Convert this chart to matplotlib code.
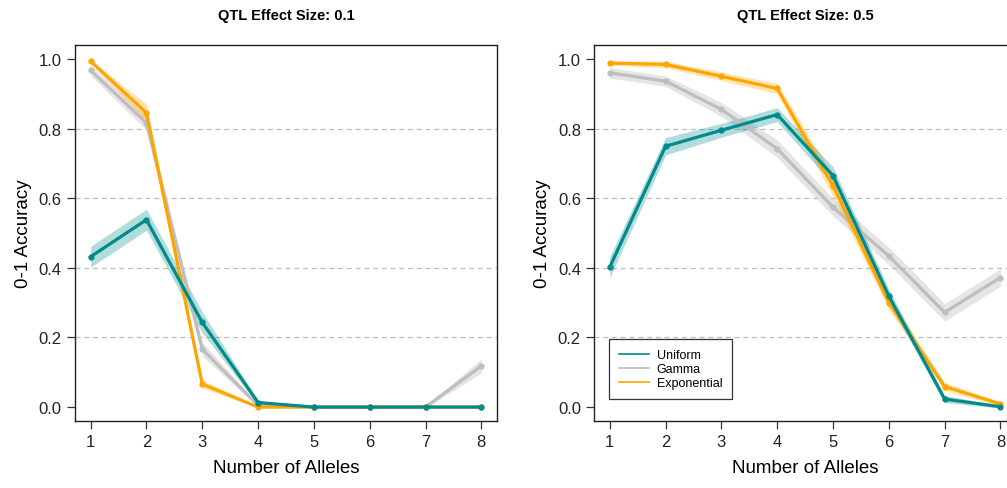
import numpy as np
import matplotlib
matplotlib.use('Agg')
from matplotlib import pyplot as plt

plt.rcParams['font.family'] = ['Liberation Sans', 'DejaVu Sans']

alleles = [1, 2, 3, 4, 5, 6, 7, 8]
effect_sizes = ['0.1', '0.5']
dist_names = ['Uniform', 'Gamma', 'Exponential']
colors = {'Uniform': '#008B8B', 'Gamma': '#BEBEBE', 'Exponential': '#FFA500'}
band_alpha = {'Uniform': 0.3, 'Gamma': 0.4, 'Exponential': 0.3}

# effect size 0.1
unif_01 = [0.432, 0.538, 0.243, 0.013, 0.0, 0.0, 0.0, 0.0]
unif_01_err = [0.03, 0.03, 0.03, 0.006, 0.0, 0.0, 0.0, 0.0]
gamma_01 = [0.967, 0.816, 0.166, 0.005, 0.0, 0.0, 0.0, 0.118]
gamma_01_err = [0.015, 0.02, 0.02, 0.004, 0.0, 0.0, 0.003, 0.02]
expo_01 = [0.993, 0.845, 0.066, 0.0, 0.0, 0.0, 0.0, 0.0]
expo_01_err = [0.005, 0.025, 0.012, 0.002, 0.0, 0.0, 0.0, 0.0]

# effect size 0.5
unif_05 = [0.402, 0.749, 0.795, 0.840, 0.665, 0.319, 0.023, 0.001]
unif_05_err = [0.03, 0.025, 0.02, 0.02, 0.025, 0.02, 0.01, 0.004]
gamma_05 = [0.960, 0.936, 0.855, 0.742, 0.574, 0.434, 0.272, 0.372]
gamma_05_err = [0.015, 0.015, 0.02, 0.025, 0.025, 0.025, 0.025, 0.025]
expo_05 = [0.988, 0.984, 0.950, 0.915, 0.635, 0.300, 0.059, 0.009]
expo_05_err = [0.006, 0.01, 0.012, 0.015, 0.03, 0.02, 0.012, 0.006]

data = {
    '0.1': {'Gamma': (gamma_01, gamma_01_err), 'Exponential': (expo_01, expo_01_err),
            'Uniform': (unif_01, unif_01_err)},
    '0.5': {'Gamma': (gamma_05, gamma_05_err), 'Exponential': (expo_05, expo_05_err),
            'Uniform': (unif_05, unif_05_err)},
}

fig = plt.figure(figsize=(10.07, 4.89), dpi=100)
axes = [fig.add_axes([0.0745, 0.137, 0.419, 0.769]),
        fig.add_axes([0.590, 0.137, 0.419, 0.769])]

x = np.array(alleles)
for ax, es in zip(axes, effect_sizes):
    for name in ['Gamma', 'Exponential', 'Uniform']:
        y, err = data[es][name]
        y = np.array(y)
        err = np.array(err)
        c = colors[name]
        ax.fill_between(x, y - err, y + err, color=c, alpha=band_alpha[name], lw=0)
        ax.plot(x, y, color=c, lw=2.3, marker='o', ms=3.5, zorder=3)

    for g in [0.2, 0.4, 0.6, 0.8]:
        ax.axhline(g, color='#BEBEBE', lw=0.9, ls=(0, (4, 3)), zorder=0)

    ax.set_xlim(0.72, 8.28)
    ax.set_ylim(-0.04, 1.04)
    ax.set_xticks(alleles)
    ax.set_yticks([0.0, 0.2, 0.4, 0.6, 0.8, 1.0])
    ax.set_yticklabels(['0.0', '0.2', '0.4', '0.6', '0.8', '1.0'])
    ax.tick_params(labelsize=12, length=6, width=0.9, color='#333333', labelcolor='#222222')
    for s in ax.spines.values():
        s.set_linewidth(1.0)
        s.set_color('#222222')
    ax.set_xlabel('Number of Alleles', fontsize=13.5, labelpad=7)
    ax.set_ylabel('0-1 Accuracy', fontsize=13.5, labelpad=5)
    ax.set_title(f'QTL Effect Size: {es}', fontsize=10.5, fontweight='bold', pad=19)

handles = [plt.Line2D([], [], color=colors[n], lw=1.2) for n in dist_names]
leg = axes[1].legend(handles, dist_names, loc='lower left', bbox_to_anchor=(0.036, 0.058),
                     fontsize=9, frameon=True, fancybox=False, edgecolor='black',
                     handlelength=2.4, borderpad=0.8, labelspacing=0.15, handletextpad=0.6,
                     borderaxespad=0)
leg.get_frame().set_linewidth(0.9)

fig.savefig('out.png', dpi=100)
